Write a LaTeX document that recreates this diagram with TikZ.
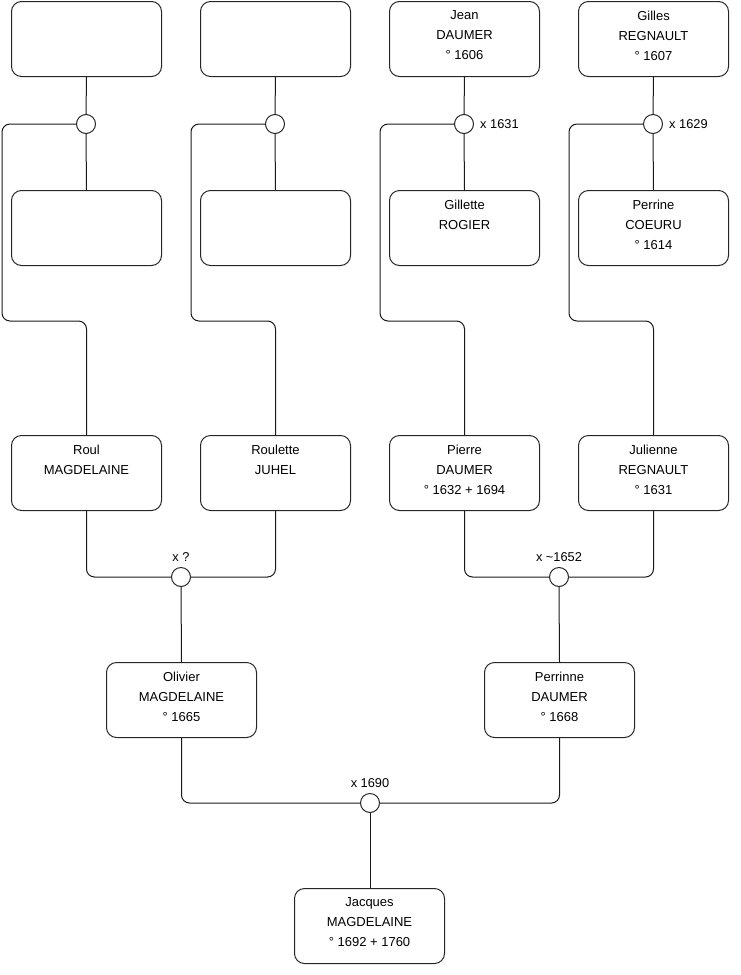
\documentclass[tikz,border=0pt]{standalone}
\usepackage{fontspec}
\setmainfont{Liberation Sans}
\begin{document}
\begin{tikzpicture}[x=1pt,y=-1pt,
  person/.style={draw=black!85, line width=1pt, rounded corners=10pt, minimum width=150pt, minimum height=75pt, inner sep=0pt, anchor=north west},
  ptext/.style={anchor=north, align=center, font=\fontsize{13}{20}\selectfont, inner sep=0pt},
  union/.style={draw=black!85, line width=1pt, circle, minimum size=19pt, inner sep=0pt, fill=white},
  link/.style={draw=black!90, line width=1pt, rounded corners=8pt},
  ulabel/.style={font=\fontsize{12.8}{14}\selectfont, inner sep=0pt}]
\useasboundingbox (0,0) rectangle (740,975);
% row 1
\node[person] (a1) at (11,1) {};
\node[person] (a2) at (200,1) {};
\node[person] (a3) at (389,1) {};
\node[ptext] (a3t) at ([yshift=-9.5pt]a3.north) {Jean\\DAUMER\\° 1606};
\node[person] (a4) at (578,1) {};
\node[ptext] (a4t) at ([yshift=-9.5pt]a4.north) {Gilles\\REGNAULT\\° 1607};
% row 2
\node[person] (b1) at (11,190) {};
\node[person] (b2) at (200,190) {};
\node[person] (b3) at (389,190) {};
\node[ptext] (b3t) at ([yshift=-9.5pt]b3.north) {Gillette\\ROGIER};
\node[person] (b4) at (578,190) {};
\node[ptext] (b4t) at ([yshift=-9.5pt]b4.north) {Perrine\\COEURU\\° 1614};
% row 3
\node[person] (c1) at (11,435) {};
\node[ptext] (c1t) at ([yshift=-9.5pt]c1.north) {Roul\\MAGDELAINE};
\node[person] (c2) at (200,435) {};
\node[ptext] (c2t) at ([yshift=-9.5pt]c2.north) {Roulette\\JUHEL};
\node[person] (c3) at (389,435) {};
\node[ptext] (c3t) at ([yshift=-9.5pt]c3.north) {Pierre\\DAUMER\\° 1632 + 1694};
\node[person] (c4) at (578,435) {};
\node[ptext] (c4t) at ([yshift=-9.5pt]c4.north) {Julienne\\REGNAULT\\° 1631};
% row 4
\node[person] (d1) at (106,662) {};
\node[ptext] (d1t) at ([yshift=-9.5pt]d1.north) {Olivier\\MAGDELAINE\\° 1665};
\node[person] (d2) at (484,662) {};
\node[ptext] (d2t) at ([yshift=-9.5pt]d2.north) {Perrinne\\DAUMER\\° 1668};
% row 5
\node[person] (e1) at (294,888) {};
\node[ptext] (e1t) at ([yshift=-9.5pt]e1.north) {Jacques\\MAGDELAINE\\° 1692 + 1760};
% unions
\node[union] (u1) at (86,124) {};
\node[union] (u2) at (275,124) {};
\node[union] (u3) at (464,124) {};
\node[ulabel, anchor=west] (u3l) at ([xshift=6pt]u3.east) {x 1631};
\node[union] (u4) at (653,124) {};
\node[ulabel, anchor=west] (u4l) at ([xshift=6pt]u4.east) {x 1629};
\node[union] (v1) at (181,577) {};
\node[ulabel, anchor=south] (v1l) at ([yshift=5pt]v1.north) {x ?};
\node[union] (v2) at (559,577) {};
\node[ulabel, anchor=south] (v2l) at ([yshift=5pt]v2.north) {x \char"007E{}1652};
\node[union] (w1) at (370,803) {};
\node[ulabel, anchor=south] (w1l) at ([yshift=5pt]w1.north) {x 1690};
% connectors top
\foreach \u/\t/\b in {u1/a1/b1,u2/a2/b2,u3/a3/b3,u4/a4/b4}{
  \draw[link] (\t.south) -- (\u.north);
  \draw[link] (\u.south) -- (\b.north);
}
\draw[link] (u1.west) -| (2,321) -| (c1.north);
\draw[link] (u2.west) -| (191,321) -| (c2.north);
\draw[link] (u3.west) -| (380,321) -| (c3.north);
\draw[link] (u4.west) -| (569,321) -| (c4.north);
% connectors bottom
\draw[link] (c1.south) |- (v1.west);
\draw[link] (c2.south) |- (v1.east);
\draw[link] (v1.south) -- (d1.north);
\draw[link] (c3.south) |- (v2.west);
\draw[link] (c4.south) |- (v2.east);
\draw[link] (v2.south) -- (d2.north);
\draw[link] (d1.south) |- (w1.west);
\draw[link] (d2.south) |- (w1.east);
\draw[link] (w1.south) -- (w1.south |- e1.north);
\end{tikzpicture}
\end{document}
